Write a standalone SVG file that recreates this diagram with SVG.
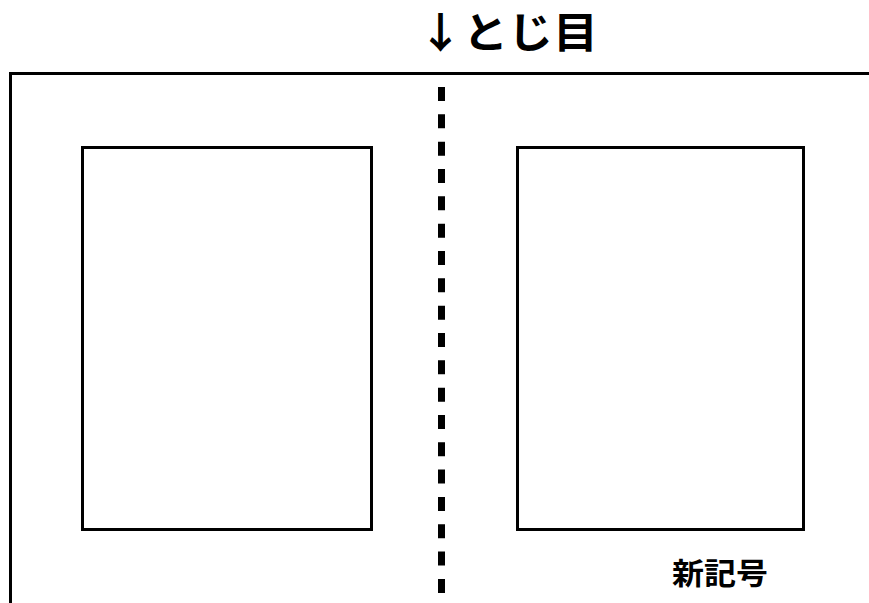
<svg xmlns="http://www.w3.org/2000/svg" width="869" height="603" viewBox="0 0 869 603">
<style>
.ln{fill:none;stroke:#000;stroke-width:3}
.t{font-family:"Noto Sans CJK JP","Noto Sans CJK SC",sans-serif;font-weight:bold;fill:#000}
</style>
<rect width="869" height="603" fill="#fff"/>
<g id="frame">
<path class="ln" d="M10.5 603 V73.5 H869"/>
</g>
<g id="connectors">
<line x1="441.5" y1="87" x2="441.5" y2="603" stroke="#000" stroke-width="7" stroke-dasharray="14 13.33"/>
</g>
<g id="title">
<text class="t" x="418" y="48" font-size="42" textLength="180" lengthAdjust="spacingAndGlyphs">↓とじ目</text>
</g>
<g id="page-left">
<rect class="ln" x="82.5" y="147.5" width="289" height="382"/>
</g>
<g id="page-right">
<rect class="ln" x="517.5" y="147.5" width="286" height="382"/>
</g>
<g id="label">
<text class="t" x="672" y="584" font-size="30" textLength="96" lengthAdjust="spacingAndGlyphs">新記号</text>
</g>
</svg>
